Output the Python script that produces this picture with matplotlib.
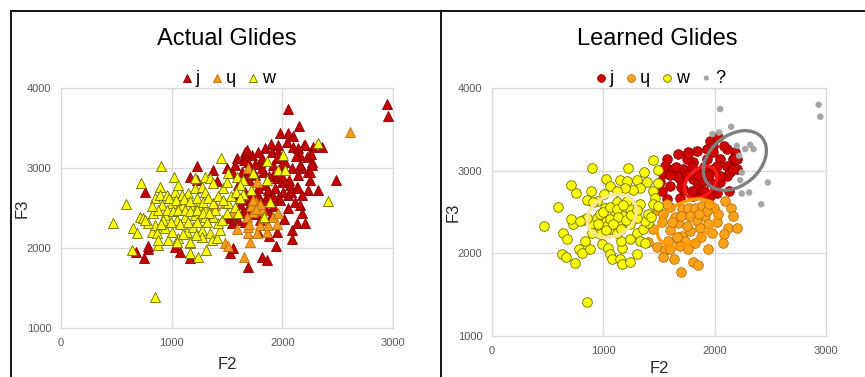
import numpy as np
import matplotlib
matplotlib.use("Agg")
import matplotlib.pyplot as plt
import matplotlib.transforms as mtransforms
from matplotlib.lines import Line2D
from matplotlib.patches import Ellipse

plt.rcParams["font.family"] = ["Liberation Sans", "DejaVu Sans"]

# ---- data: (F2, F3) pairs --------------------------------------------------
LABELS = ["j", "ɥ", "w"]

# Actual Glides (left)
J_ACTUAL = [
    (2050, 3737), (2943, 3796), (2958, 3654), (2153, 3525), (2276, 3267), (2361, 3267),
    (2198, 3287), (2485, 2850), (2319, 2725), (2229, 2725), (2130, 2767), (2175, 2996),
    (2220, 3142), (1979, 3442), (2049, 3442), (1964, 3287), (2040, 3329), (2100, 3267),
    (2145, 3246), (2205, 3287), (2160, 3162), (2265, 3079), (2235, 2954), (2250, 2850),
    (2145, 2912), (2085, 2996), (2024, 3079), (1949, 3121), (1904, 3204), (1844, 3246),
    (1783, 3204), (1723, 3162), (1663, 3204), (1693, 3079), (1799, 3079), (1919, 3037),
    (1919, 2912), (1753, 2912), (1844, 2787), (1994, 2829), (2070, 2787), (2055, 2662),
    (1964, 2621), (2115, 2579), (1783, 2662), (1708, 2621), (1874, 2662), (2009, 2704),
    (2145, 2746), (2175, 2662), (2265, 3037), (2160, 3037), (1829, 2954), (1979, 2975),
    (1232, 3029), (1376, 2975), (1587, 3129), (1662, 3162), (1677, 3225), (759, 2704),
    (1165, 2892), (1226, 2850), (1406, 2837), (1497, 2996), (1557, 2933), (1572, 3037),
    (1632, 2954), (1677, 2871), (1602, 2787), (1662, 2704), (1572, 2662), (1647, 2600),
    (675, 1946), (753, 1871), (789, 1984), (788, 2025), (1030, 2017), (1075, 1954),
    (1166, 1871), (1527, 1934), (1557, 1996), (1693, 1766), (1512, 2371), (1542, 2308),
    (1602, 2350), (1632, 2433), (1677, 2475), (1662, 2329), (1557, 2412), (1361, 2392),
    (2160, 2537), (2175, 2441), (2018, 2359), (2130, 2308), (2205, 2308), (2090, 2225),
    (2090, 2112), (1943, 2029), (1814, 1892), (1859, 1850), (1620, 2550), (1700, 2500),
    (1780, 2580), (1850, 2480), (1920, 2520), (1750, 2430), (1650, 2450), (1980, 2600),
    (2050, 2500), (1900, 2400), (1950, 2200), (1800, 2350), (1780, 2200), (1880, 2150),
    (1750, 3050), (1820, 3000), (1880, 2900), (1950, 2880), (1700, 2850), (1780, 2750),
    (1870, 2720), (1930, 2750), (2000, 2900), (2060, 2850), (2080, 2700), (1700, 2980),
    (2120, 3150), (1900, 3300), (1960, 3200), (2000, 3050), (1820, 3130), (1760, 2650),
    (1840, 2600), (1920, 2650), (2250, 2950), (2260, 3180), (2100, 3400), (1650, 3100),
]
U_ACTUAL = [
    (2614, 3450), (1687, 2996), (1768, 2829), (1759, 2580), (1708, 2079), (1693, 2183),
    (1769, 2183), (1859, 2204), (1799, 2287), (1874, 2287), (1738, 2454), (1814, 2475),
    (1919, 2392), (1964, 2433), (1678, 2392), (1655, 1892), (1693, 2267), (1482, 2058),
    (1512, 2030), (1587, 2233), (1391, 2537), (1482, 2558), (1550, 2450), (1800, 2550),
    (1720, 2520), (1830, 2380), (1950, 2300), (1700, 2300), (1736, 2596), (1766, 2492),
]
W_ACTUAL = [
    (900, 3029), (1446, 3121), (720, 2808), (894, 2767), (1024, 2892), (1211, 2871),
    (1301, 2892), (1346, 2871), (1376, 2808), (1467, 2746), (1512, 2933), (1587, 2892),
    (1647, 2850), (1497, 2821), (849, 2621), (894, 2662), (1030, 2704), (1090, 2662),
    (1150, 2683), (1211, 2746), (1271, 2767), (1301, 2704), (1060, 2787), (954, 2662),
    (590, 2555), (473, 2317), (639, 1975), (850, 1392), (879, 2037), (1166, 1934),
    (1241, 1892), (1310, 1975), (1166, 2058), (714, 2392), (744, 2371), (653, 2246),
    (683, 2183), (819, 2204), (849, 2287), (864, 2183), (940, 2246), (879, 2100),
    (970, 2100), (1060, 2121), (1045, 2079), (1165, 2079), (1135, 2204), (1196, 2267),
    (1271, 2225), (1271, 2142), (1346, 2183), (1361, 2100), (1406, 2121), (1436, 2225),
    (1421, 2308), (1376, 2392), (1301, 2392), (1211, 2412), (1120, 2392), (1045, 2350),
    (940, 2412), (834, 2433), (789, 2308), (759, 2350), (909, 2537), (1000, 2558),
    (1090, 2537), (1180, 2517), (1241, 2537), (1301, 2475), (1451, 2350), (1512, 2558),
    (1572, 2517), (1602, 2433), (1497, 2433), (1391, 2475), (2319, 3308), (1859, 3088),
    (2009, 3162), (1964, 2975), (2024, 2975), (1860, 2850), (1739, 2933), (1717, 2725),
    (1889, 2579), (2416, 2587), (1837, 2392), (1646, 2680), (1616, 2783), (980, 2620),
    (1040, 2600), (1110, 2610), (1170, 2590), (1230, 2620), (1280, 2580), (1330, 2620),
    (1370, 2560), (1420, 2650), (1460, 2600), (960, 2480), (1010, 2460), (1060, 2480),
    (1120, 2470), (1170, 2460), (1230, 2480), (1280, 2440), (1340, 2440), (880, 2480),
    (820, 2520), (920, 2350), (990, 2320), (1080, 2300), (1150, 2330), (1230, 2330),
    (1320, 2320), (1000, 2200), (1100, 2180), (1220, 2160), (900, 2300), (1540, 2650),
    (1580, 2700), (1620, 2620),
]

# Learned Glides (right)
J_LEARNED = [
    (1959, 3362), (2034, 3402), (1569, 3139), (1674, 3200), (1764, 3220), (1839, 3240),
    (1929, 3261), (1989, 3301), (2109, 3261), (2184, 3220), (2199, 3139), (2169, 3038),
    (2199, 3018), (2109, 2937), (2049, 2857), (2019, 2735), (1959, 2695), (1899, 2715),
    (1809, 2695), (1689, 2675), (1569, 2655), (1524, 2756), (1509, 2857), (1533, 2958),
    (1554, 3059), (1629, 3018), (1719, 3018), (1809, 3099), (1929, 3139), (2049, 3139),
    (2109, 3058), (1989, 3018), (1899, 2978), (1809, 2897), (1689, 2897), (1599, 2816),
    (1719, 2776), (1839, 2796), (1959, 2857), (2049, 2937), (2169, 3139), (1989, 3220),
    (1749, 3139), (1659, 2937), (1884, 2877), (2139, 2978), (2133, 2756), (2019, 3059),
    (2184, 3139), (2169, 3018), (1600, 2950), (1650, 3050), (1700, 2800), (1750, 2950),
    (1800, 3050), (1850, 2950), (1900, 3050), (1950, 2950), (2000, 2800), (1800, 2750),
    (1900, 2750), (1760, 3200), (2080, 3300),
]
U_LEARNED = [
    (2094, 2634), (2148, 2554), (2169, 2453), (2019, 2380), (2124, 2311), (2199, 2311),
    (2088, 2239), (2079, 2122), (1938, 2049), (1809, 1894), (1854, 1858), (1698, 1777),
    (1704, 2533), (1764, 2554), (1824, 2554), (1884, 2574), (1779, 2453), (1839, 2392),
    (1914, 2453), (1944, 2352), (1869, 2311), (1779, 2271), (1704, 2210), (1659, 2170),
    (1734, 2150), (1824, 2130), (1689, 2089), (1998, 2554), (1929, 2513), (1674, 2372),
    (1749, 2332), (1479, 2519), (1539, 2479), (1599, 2560), (1524, 2378), (1449, 2297),
    (1404, 2136), (1479, 2075), (1554, 2035), (1533, 1954), (1635, 1934), (1599, 2277),
    (1659, 2196), (1569, 2600), (1644, 2439), (1620, 2380), (1700, 2450), (1860, 2480),
    (1950, 2600), (2030, 2480), (1580, 2150), (1600, 2050), (1760, 2050), (1880, 2200),
    (1980, 2250),
]
W_LEARNED = [
    (894, 3030), (1224, 3038), (1443, 3127), (1494, 3006), (1368, 2978), (1023, 2897),
    (714, 2828), (753, 2727), (888, 2756), (1059, 2816), (1149, 2885), (1209, 2869),
    (1299, 2885), (1389, 2857), (1329, 2788), (1263, 2764), (1194, 2796), (1125, 2756),
    (1005, 2723), (1494, 2845), (1443, 2756), (1464, 2675), (849, 2643), (939, 2635),
    (594, 2566), (465, 2332), (639, 2251), (675, 2178), (633, 1988), (669, 1960),
    (744, 1887), (783, 2049), (804, 2000), (879, 2049), (834, 2150), (729, 2352),
    (714, 2413), (813, 2405), (894, 2352), (969, 2231), (984, 2110), (1044, 2069),
    (1059, 1988), (1074, 1935), (1149, 1927), (1164, 1866), (1239, 1894), (1305, 1988),
    (1164, 2069), (1155, 2150), (1239, 2170), (1299, 2251), (1359, 2291), (1329, 2150),
    (1374, 2130), (1404, 2372), (1374, 2393), (1449, 2598), (1494, 2578), (1299, 2433),
    (1239, 2352), (1149, 2372), (1059, 2291), (999, 2393), (939, 2433), (894, 2251),
    (849, 2433), (789, 2393), (969, 2474), (1029, 2332), (1119, 2251), (1179, 2453),
    (1104, 2494), (1239, 2534), (1014, 2554), (909, 2615), (1119, 2615), (1209, 2635),
    (1329, 2594), (849, 1414), (1000, 2500), (1060, 2560), (1120, 2540), (1180, 2580),
    (1060, 2420), (1130, 2440), (1200, 2400), (950, 2350), (1020, 2280), (1090, 2350),
    (1160, 2300), (1250, 2460), (1300, 2520), (1400, 2480), (1430, 2440),
]
Q_LEARNED = [
    (2049, 3745), (2148, 3531), (1980, 3442), (2040, 3462), (2199, 3301), (2274, 3261),
    (2319, 3313), (2349, 3261), (2220, 3180), (2244, 2978), (2229, 2885), (2244, 2723),
    (2310, 2736), (2478, 2857), (2418, 2594), (2934, 3798), (2949, 3653),
]

# learned cluster contours (j, ɥ, w, ?): centre in data units
ELL_CENTERS = [(1875, 2857), (1749, 2372), (1077, 2453), (2181, 3123)]

# ---- styles -----------------------------------------------------------------
RED, ORANGE, YELLOW, GRAY = "#C00000", "#F59A1B", "#FFFF00", "#A6A6A6"
EDGES = ["#8B0000", "#B8700A", "#6B6B00"]
ELL_COLORS = ["#FF1A1A", "#FF9900", "#FFE699", "#7F7F7F"]
ELL_SIZE_PX = [(38, 26, 45), (64, 40, 30), (52, 40, 30), (71, 50, 40)]  # w, h, angle on screen
TICK_C = "#595959"
GRID_C = "#D9D9D9"


def style_axes(ax, xpad, ypad):
    ax.set_xlim(0, 3000)
    ax.set_ylim(1000, 4000)
    ax.set_xticks([0, 1000, 2000, 3000])
    ax.set_yticks([1000, 2000, 3000, 4000])
    ax.grid(True, color=GRID_C, lw=0.9)
    ax.set_axisbelow(True)
    for s in ax.spines.values():
        s.set_color(GRID_C)
        s.set_linewidth(0.9)
    ax.tick_params(length=0, labelsize=8, colors=TICK_C, pad=7)
    ax.set_xlabel("F2", fontsize=12, color="#262626", labelpad=xpad)
    ax.set_ylabel("F3", fontsize=12, color="#262626", labelpad=ypad)


def xy(pts):
    a = np.array(pts, dtype=float)
    return a[:, 0], a[:, 1]


LEG_KW = dict(loc="lower center", bbox_to_anchor=(0.5, 1.005), frameon=False, fontsize=13,
              handletextpad=0.05, columnspacing=0.5, handlelength=0.9, markerscale=0.8,
              borderaxespad=0, borderpad=0)

fig = plt.figure(figsize=(8.65, 3.77), dpi=100)
ax1 = fig.add_axes([0.0705, 0.130, 0.3838, 0.6366])
ax2 = fig.add_axes([0.5688, 0.1088, 0.3861, 0.6578])

# left: actual
for pts, c, ec, lab in zip([J_ACTUAL, U_ACTUAL, W_ACTUAL], [RED, ORANGE, YELLOW], EDGES, LABELS):
    x, y = xy(pts)
    ax1.scatter(x, y, marker="^", s=52, c=c, edgecolors=ec, linewidths=0.6, label=lab, zorder=3)
style_axes(ax1, 7, -2)
ax1.legend(ncol=3, **LEG_KW)

# right: learned
for pts, c, ec, lab in zip([J_LEARNED, U_LEARNED, W_LEARNED], ["#D00000", "#FFA31A", YELLOW],
                           EDGES, LABELS):
    x, y = xy(pts)
    ax2.scatter(x, y, marker="o", s=48, c=c, edgecolors=ec, linewidths=0.6, label=lab, zorder=3)
x, y = xy(Q_LEARNED)
ax2.scatter(x, y, marker="o", s=22, c=GRAY, edgecolors="none", label="?", zorder=3)
for cen, (w, h, ang), col in zip(ELL_CENTERS, ELL_SIZE_PX, ELL_COLORS):
    tr = fig.dpi_scale_trans + mtransforms.ScaledTranslation(cen[0], cen[1], ax2.transData)
    ax2.add_patch(Ellipse((0, 0), w / 100, h / 100, angle=ang, fill=False, ec=col, lw=2.4,
                          zorder=4, transform=tr))
style_axes(ax2, 4, -2)
ax2.legend(ncol=4, **LEG_KW)

fig.text(0.262, 0.897, "Actual Glides", ha="center", va="center", fontsize=17)
fig.text(0.7595, 0.897, "Learned Glides", ha="center", va="center", fontsize=17)

# slide frame lines
for xs, ys in [((11 / 865, 1), (1 - 11 / 377, 1 - 11 / 377)),
               ((11 / 865, 11 / 865), (0, 1 - 11 / 377)),
               ((441 / 865, 441 / 865), (0, 1 - 11 / 377))]:
    fig.add_artist(Line2D(xs, ys, color="black", lw=1.3))

fig.savefig("out.png", dpi=100)
